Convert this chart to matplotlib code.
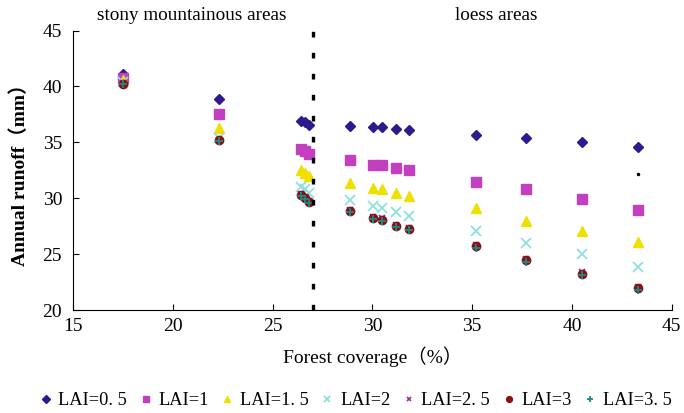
import numpy as np
import matplotlib
matplotlib.use("Agg")
import matplotlib.pyplot as plt

# forest coverage (%) for each sample point
coverage = [17.5, 22.3, 26.4, 26.6, 26.8, 28.9, 30.05, 30.5, 31.2, 31.85, 35.2, 37.7, 40.5, 43.3]

# annual runoff (mm) per LAI
lai05 = [41.1, 38.9, 36.9, 36.8, 36.6, 36.5, 36.4, 36.35, 36.2, 36.1, 35.7, 35.4, 35.0, 34.6]
lai1  = [40.8, 37.5, 34.4, 34.2, 34.0, 33.4, 33.0, 32.95, 32.7, 32.5, 31.5, 30.8, 29.9, 29.0]
lai15 = [40.6, 36.3, 32.5, 32.3, 32.0, 31.4, 30.95, 30.8, 30.5, 30.2, 29.1, 28.0, 27.1, 26.1]
lai2  = [40.4, 35.4, 31.0, 30.8, 30.5, 29.85, 29.3, 29.1, 28.75, 28.45, 27.1, 26.0, 25.0, 23.85]
lai25 = [40.3, 35.2, 30.4, 30.1, 29.8, 29.0, 28.35, 28.2, 27.65, 27.35, 25.85, 24.6, 23.4, 22.1]
lai3  = [40.2, 35.2, 30.3, 30.0, 29.7, 28.9, 28.25, 28.1, 27.55, 27.25, 25.7, 24.45, 23.25, 21.95]
lai35 = [40.2, 35.1, 30.2, 29.9, 29.6, 28.8, 28.15, 28.0, 27.45, 27.15, 25.6, 24.35, 23.15, 21.8]

labels = ["LAI=0. 5", "LAI=1", "LAI=1. 5", "LAI=2", "LAI=2. 5", "LAI=3", "LAI=3. 5"]
boundary = 27.0

fam = ["Liberation Serif", "Noto Sans CJK SC"]
plt.rcParams['font.family'] = fam

fig = plt.figure(figsize=(6.84, 4.13), dpi=100)
ax = fig.add_axes([0.107, 0.249, 0.875, 0.677])

styles = [
    dict(marker="D", color="#2d1b8e", ms=5.5),
    dict(marker="s", color="#c23fc0", ms=6.5),
    dict(marker="^", color="#eee000", ms=7),
    dict(marker="x", color="#8fe0e0", ms=7, mew=1.3),
    dict(marker="x", color="#a02a9a", ms=5, mew=1.2),
    dict(marker="o", color="#8b1010", ms=6),
    dict(marker="+", color="#178a8a", ms=6, mew=1.3),
]
series = [lai05, lai1, lai15, lai2, lai25, lai3, lai35]
for ys, lab, st in zip(series, labels, styles):
    ax.plot(coverage, ys, ls="none", label=lab, **st)

# small stray dot on the original
ax.plot([43.3], [32.2], ls="none", marker="o", ms=1.5, color="black")

ax.axvline(boundary, color="black", lw=2.4, ls=(0, (1.7, 4.6)))

ax.set_xlim(15, 45)
ax.set_ylim(20, 45)
ax.set_xticks(range(15, 46, 5))
ax.set_yticks(range(20, 46, 5))
ax.spines['top'].set_visible(False)
ax.spines['right'].set_visible(False)
ax.tick_params(direction="in", labelsize=14, length=4)
ax.tick_params(axis="y", pad=8)
ax.tick_params(axis="x", pad=6)
ax.set_xlabel("Forest coverage（%）", fontsize=14, family=fam, labelpad=8)
ax.set_ylabel("Annual runoff（mm）", fontsize=14, family=fam, fontweight="bold", labelpad=10)

fig.text(0.142, 0.962, "stony mountainous areas", fontsize=13.8, va="center")
fig.text(0.665, 0.962, "loess areas", fontsize=13.8, va="center")

leg = fig.legend(loc="center", bbox_to_anchor=(0.521, 0.03), ncol=7, frameon=False,
                 fontsize=13.2, handlelength=0.5, handletextpad=0.45, columnspacing=0.75,
                 markerscale=0.7, borderaxespad=0)

fig.savefig("out.png", dpi=100)
